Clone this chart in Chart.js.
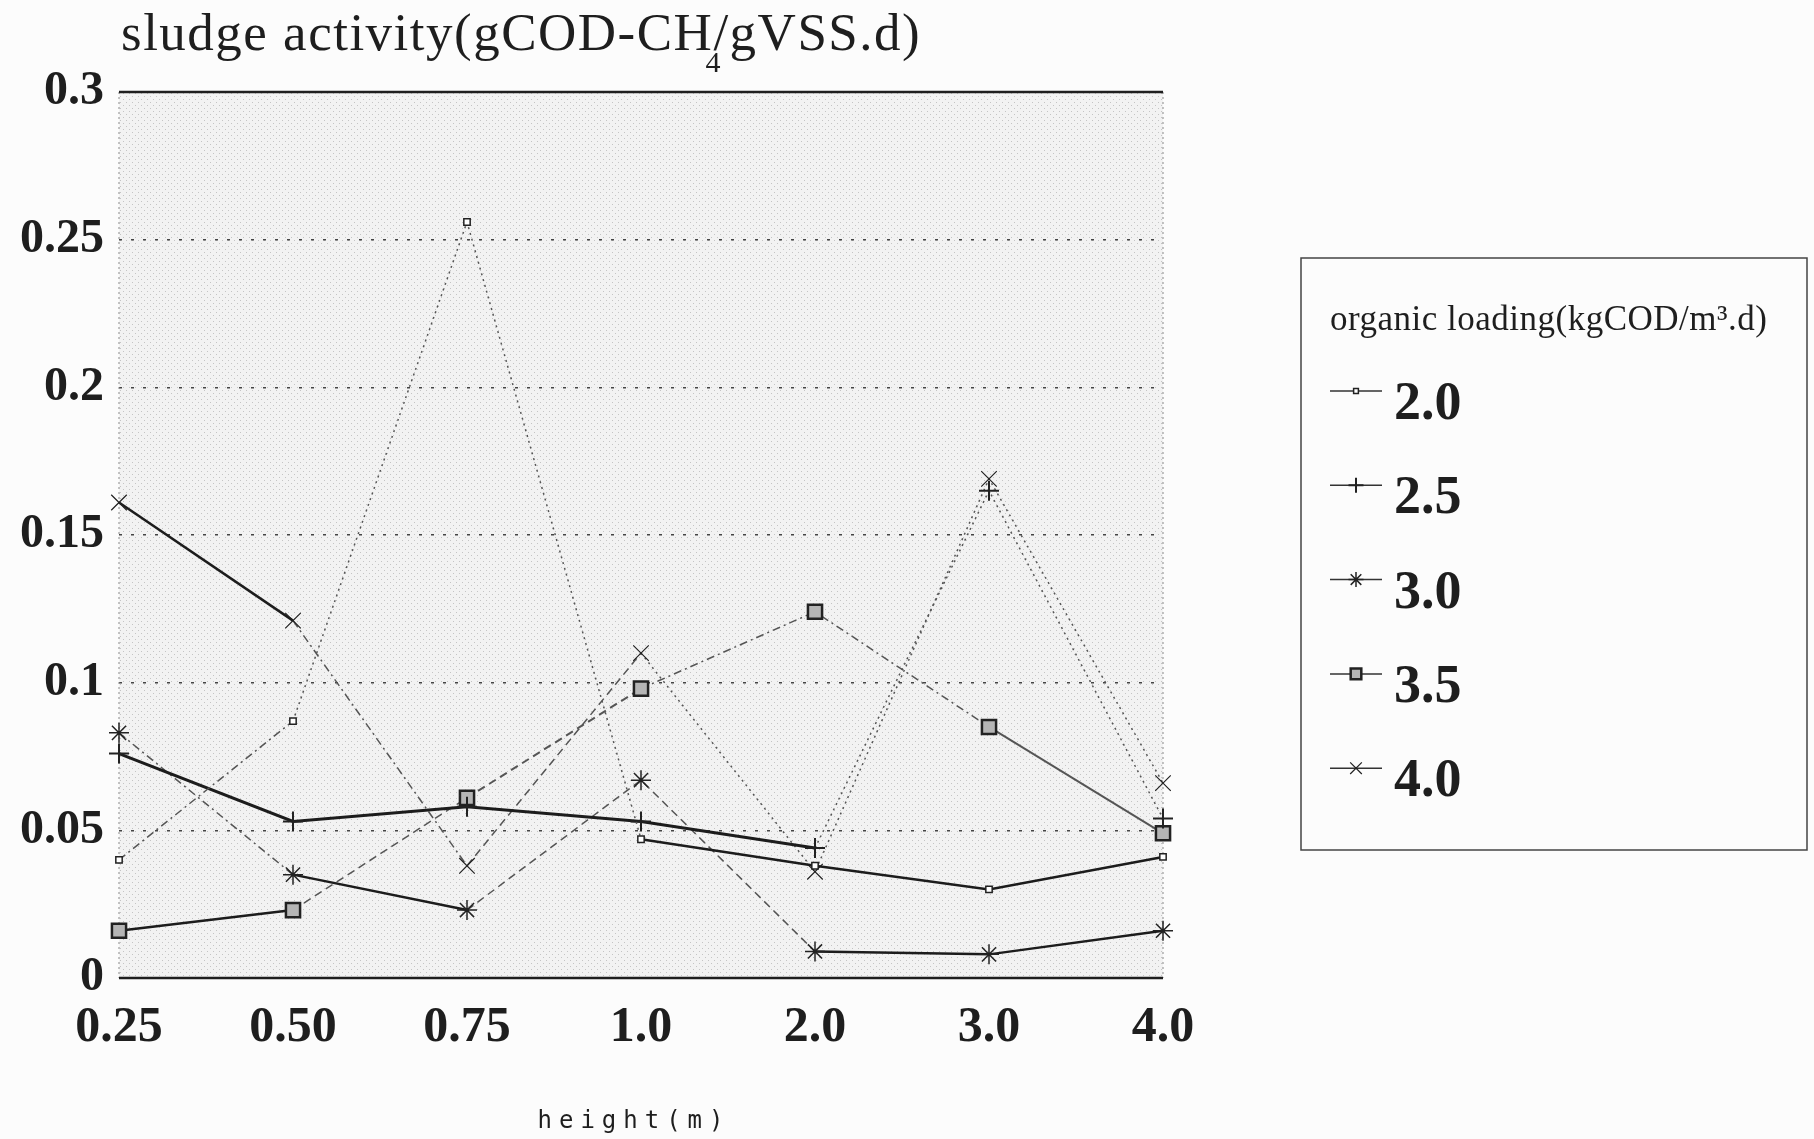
<!DOCTYPE html>
<html>
<head>
<meta charset="utf-8">
<script src="https://cdn.jsdelivr.net/npm/chart.js@4.4.1/dist/chart.umd.min.js"></script>
<style>
  body { margin: 0; background: #fcfcfc; }
  #wrap { width: 1814px; height: 1139px; }
</style>
</head>
<body>
<div id="wrap"><canvas id="activity" width="1814" height="1139"></canvas></div>
<script>
// heights (m) along the reactor
const heights = ['0.25', '0.50', '0.75', '1.0', '2.0', '3.0', '4.0'];
// sludge activity for each organic loading (kgCOD/m3.d)
const load20 = [0.040, 0.087, 0.256, 0.047, 0.038, 0.030, 0.041];
const load25 = [0.076, 0.053, 0.058, 0.053, 0.044, 0.165, 0.054];
const load30 = [0.083, 0.035, 0.023, 0.067, 0.009, 0.008, 0.016];
const load35 = [0.016, 0.023, 0.061, 0.098, 0.124, 0.085, 0.049];
const load40 = [0.161, 0.121, 0.038, 0.110, 0.036, 0.169, 0.066];
const seriesNames = ['2.0', '2.5', '3.0', '3.5', '4.0'];
const yTickLabels = ['0', '0.05', '0.1', '0.15', '0.2', '0.25', '0.3'];

// line look of each segment, as it comes out of the old plot
const SOLID = [], DOT = [2, 4], DASH = [8, 5], DASHDOT = [8, 4, 2, 4];
const segDash = [
	[DASHDOT, DOT, DOT, SOLID, SOLID, SOLID],
	[SOLID, SOLID, SOLID, SOLID, DOT, DOT],
	[DASHDOT, SOLID, DASH, DASH, SOLID, SOLID],
	[SOLID, DASH, DASH, DASHDOT, DASHDOT, SOLID],
	[SOLID, DASHDOT, DASH, DOT, DOT, DOT]
];
const segWidth = [
	[1.5, 1.5, 1.5, 2.5, 2.5, 2.5],
	[3, 3, 3, 3, 1.5, 1.5],
	[1.5, 2.5, 1.5, 1.5, 2.5, 2.5],
	[2.5, 1.5, 2, 1.5, 1.5, 2],
	[2.5, 1.5, 1.5, 1.5, 1.5, 1.5]
];
const markers = [
	{ style: 'rect', radius: 4.5, fill: '#ffffff', width: 1.5 },
	{ style: 'cross', radius: 10, fill: '#222222', width: 2 },
	{ style: 'star', radius: 10, fill: '#222222', width: 1.5 },
	{ style: 'rect', radius: 10, fill: '#b5b5b5', width: 2.5 },
	{ style: 'crossRot', radius: 11, fill: '#222222', width: 1.2 }
];

function makeDataset(idx, values) {
	const m = markers[idx];
	return {
		label: seriesNames[idx],
		data: values,
		borderColor: '#222',
		borderWidth: 2,
		pointStyle: m.style,
		pointRadius: m.radius,
		pointBackgroundColor: m.fill,
		pointBorderColor: '#222',
		pointBorderWidth: m.width,
		tension: 0,
		segment: {
			borderDash: ctx => segDash[idx][ctx.p0DataIndex],
			borderWidth: ctx => segWidth[idx][ctx.p0DataIndex],
			borderColor: ctx => segWidth[idx][ctx.p0DataIndex] > 2 ? '#1c1c1c' : '#555555'
		}
	};
}

// stippled plot background
const pat = document.createElement('canvas');
pat.width = 6; pat.height = 6;
const pctx = pat.getContext('2d');
pctx.fillStyle = '#f2f2f2';
pctx.fillRect(0, 0, 6, 6);
pctx.fillStyle = '#c4c4c4';
pctx.fillRect(0, 0, 1, 1);
pctx.fillRect(3, 3, 1, 1);

const framePlugin = {
	id: 'frame',
	beforeDraw: function (chart) {
		const ctx = chart.ctx;
		const a = chart.chartArea;
		ctx.save();
		ctx.fillStyle = '#fcfcfc';
		ctx.fillRect(0, 0, chart.width, chart.height);
		ctx.fillStyle = ctx.createPattern(pat, 'repeat');
		ctx.fillRect(a.left, a.top, a.right - a.left, a.bottom - a.top);
		ctx.restore();
	},
	beforeDatasetsDraw: function (chart) {
		const ctx = chart.ctx;
		const a = chart.chartArea;
		ctx.save();
		ctx.strokeStyle = '#8a8a8a';
		ctx.lineWidth = 1;
		ctx.setLineDash([2, 3]);
		ctx.beginPath();
		ctx.moveTo(a.left, a.top); ctx.lineTo(a.left, a.bottom);
		ctx.moveTo(a.right, a.top); ctx.lineTo(a.right, a.bottom);
		ctx.stroke();
		ctx.setLineDash([]);
		ctx.strokeStyle = '#1e1e1e';
		ctx.lineWidth = 2.5;
		ctx.beginPath();
		ctx.moveTo(a.left, a.top); ctx.lineTo(a.right, a.top);
		ctx.moveTo(a.left, a.bottom); ctx.lineTo(a.right, a.bottom);
		ctx.stroke();
		ctx.restore();
	},
	afterDraw: function (chart) {
		const ctx = chart.ctx;
		ctx.save();
		ctx.fillStyle = '#1e1e1e';
		ctx.textBaseline = 'alphabetic';

		// y axis title with subscript 4
		ctx.font = "53px 'Liberation Serif'";
		ctx.letterSpacing = '1.5px';
		let x = 121;
		const part1 = 'sludge activity(gCOD-CH';
		ctx.fillText(part1, x, 50);
		x += ctx.measureText(part1).width;
		ctx.font = "30px 'Liberation Serif'";
		ctx.fillText('4', x - 8, 72);
		ctx.font = "53px 'Liberation Serif'";
		ctx.fillText('/gVSS.d)', x, 50);

		// x axis title
		ctx.font = "24px 'DejaVu Sans Mono'";
		ctx.letterSpacing = '7px';
		ctx.textAlign = 'center';
		ctx.fillText('height(m)', 634, 1128);
		ctx.letterSpacing = '0px';
		ctx.textAlign = 'left';

		// legend box
		ctx.strokeStyle = '#444';
		ctx.lineWidth = 1.5;
		ctx.strokeRect(1301, 258, 506, 592);
		ctx.font = "35px 'Liberation Serif'";
		ctx.letterSpacing = '0.5px';
		ctx.fillText('organic loading(kgCOD/m³.d)', 1330, 330);
		ctx.letterSpacing = '0px';

		chart.data.datasets.forEach(function (ds, i) {
			const cy = 391 + i * 94.3;
			ctx.strokeStyle = '#333';
			ctx.lineWidth = 1.5;
			ctx.setLineDash([]);
			ctx.beginPath();
			ctx.moveTo(1330, cy); ctx.lineTo(1382, cy);
			ctx.stroke();
			if (Chart.helpers && Chart.helpers.drawPoint) {
				ctx.fillStyle = ds.pointBackgroundColor;
				ctx.strokeStyle = '#222';
				ctx.lineWidth = ds.pointBorderWidth;
				Chart.helpers.drawPoint(ctx, {
					pointStyle: ds.pointStyle,
					radius: ds.pointRadius * 0.75,
					rotation: 0,
					borderWidth: ds.pointBorderWidth
				}, 1356, cy);
			}
			ctx.fillStyle = '#1e1e1e';
			ctx.font = "bold 54px 'Liberation Serif'";
			ctx.fillText(ds.label, 1394, cy + 28);
		});
		ctx.restore();
	}
};

const chart = new Chart(document.getElementById('activity'), {
	type: 'line',
	data: {
		labels: heights,
		datasets: [
			makeDataset(0, load20),
			makeDataset(1, load25),
			makeDataset(2, load30),
			makeDataset(3, load35),
			makeDataset(4, load40)
		]
	},
	options: {
		responsive: false,
		animation: false,
		layout: { padding: { left: 0, top: 92, right: 651, bottom: 0 } },
		plugins: {
			legend: { display: false },
			tooltip: { enabled: false }
		},
		scales: {
			x: {
				offset: false,
				grid: { display: false, drawTicks: false },
				border: { display: false },
				ticks: {
					color: '#1e1e1e',
					padding: 20,
					maxRotation: 0,
					autoSkip: false,
					font: { family: 'Liberation Serif', weight: 'bold', size: 50 }
				},
				afterFit: function (scale) { scale.height = 161; }
			},
			y: {
				min: 0,
				max: 0.3,
				grid: {
					color: ctx => (ctx.index === 0 || ctx.index === 6) ? 'rgba(0,0,0,0)' : '#444',
					lineWidth: 1.5,
					drawTicks: false
				},
				border: { display: false, dash: [3, 9] },
				ticks: {
					stepSize: 0.05,
					color: '#1e1e1e',
					padding: 15,
					font: { family: 'Liberation Serif', weight: 'bold', size: 48 },
					callback: function (value, index) { return yTickLabels[index]; }
				},
				afterFit: function (scale) { scale.width = 119; }
			}
		}
	},
	plugins: [framePlugin]
});
</script>
</body>
</html>
